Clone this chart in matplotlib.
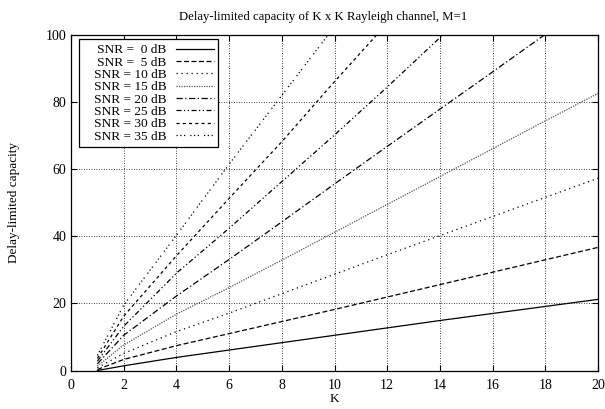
import matplotlib
matplotlib.use("Agg")
import matplotlib.pyplot as plt
import numpy as np

plt.rcParams['font.family'] = ['Liberation Serif', 'DejaVu Serif']

K = [1, 2, 4, 6, 8, 10, 12, 14, 16, 18, 20]

# delay-limited capacity per SNR (values past 100 are cut by the axes)
snr0 = [0.0, 1.4, 3.9, 6.1, 8.3, 10.5, 12.7, 14.9, 17.0, 19.1, 21.2]
snr5 = [0.3, 3.3, 7.4, 11.0, 14.6, 18.2, 21.9, 25.6, 29.3, 33.0, 36.7]
snr10 = [0.8, 5.1, 11.6, 17.1, 22.9, 28.7, 34.5, 40.2, 45.9, 51.6, 57.3]
snr15 = [1.3, 7.6, 16.8, 24.7, 32.9, 41.2, 49.5, 57.8, 66.1, 74.4, 82.6]
snr20 = [2.0, 10.5, 22.2, 33.1, 44.3, 55.6, 66.8, 77.9, 89.0, 100.2, 111.4]
snr25 = [2.8, 13.2, 29.0, 42.4, 56.3, 70.2, 84.5, 99.2, 113.5, 128.0, 142.5]
snr30 = [3.6, 16.2, 34.2, 51.3, 68.2, 86.1, 103.5, 121.0, 138.5, 156.0, 173.5]
snr35 = [4.5, 19.5, 40.3, 61.5, 82.0, 102.5, 123.0, 143.5, 164.0, 184.5, 205.0]

labels = ['SNR =  0 dB', 'SNR =  5 dB', 'SNR = 10 dB', 'SNR = 15 dB',
          'SNR = 20 dB', 'SNR = 25 dB', 'SNR = 30 dB', 'SNR = 35 dB']
series = [snr0, snr5, snr10, snr15, snr20, snr25, snr30, snr35]

styles = ['-', (0, (4, 2)), (0, (1, 3)), (0, (1, 1)),
          (0, (5, 2, 1, 2)), (0, (4, 2, 1, 2, 1, 2)), (0, (2.5, 2.5)),
          (0, (1, 2, 1, 2, 1, 4))]
colors = ['black', 'black', 'black', '#555555', 'black', 'black', 'black', 'black']

fig = plt.figure(figsize=(6.05, 4.09), dpi=100)
ax = fig.add_axes([0.1174, 0.0941, 0.871, 0.8203])

for y, lab, ls, c in zip(series, labels, styles, colors):
    # leading spaces give the wider left margin of the gnuplot key
    ax.plot(K, y, linestyle=ls, color=c, lw=0.9, label='   ' + lab)

ax.set_xlim(0, 20)
ax.set_ylim(0, 100)
ax.set_xticks(np.arange(0, 21, 2))
ax.set_yticks(np.arange(0, 101, 20))
ax.grid(True, color='black', linestyle=(0, (1, 2)), lw=0.6)
ax.tick_params(direction='in', top=True, right=True, labelsize=10, length=4.5)
ax.tick_params(axis='x', pad=6)
for s in ax.spines.values():
    s.set_linewidth(0.9)

ax.set_xlabel('K', fontsize=9.5, labelpad=1)
ax.set_ylabel('Delay-limited capacity', fontsize=9.5)
ax.yaxis.set_label_coords(-0.097, 0.5)
ax.set_title('Delay-limited capacity of K x K Rayleigh channel, M=1', fontsize=9.2,
             pad=11, x=0.478)

leg = ax.legend(loc='upper left', bbox_to_anchor=(0.015, 0.987), borderaxespad=0,
                markerfirst=False, fontsize=9.6, handlelength=2.8, handletextpad=0.75,
                labelspacing=0.0, borderpad=0.35, fancybox=False, framealpha=1,
                edgecolor='black')
leg.get_frame().set_linewidth(0.9)

fig.savefig('out.png', dpi=100)
